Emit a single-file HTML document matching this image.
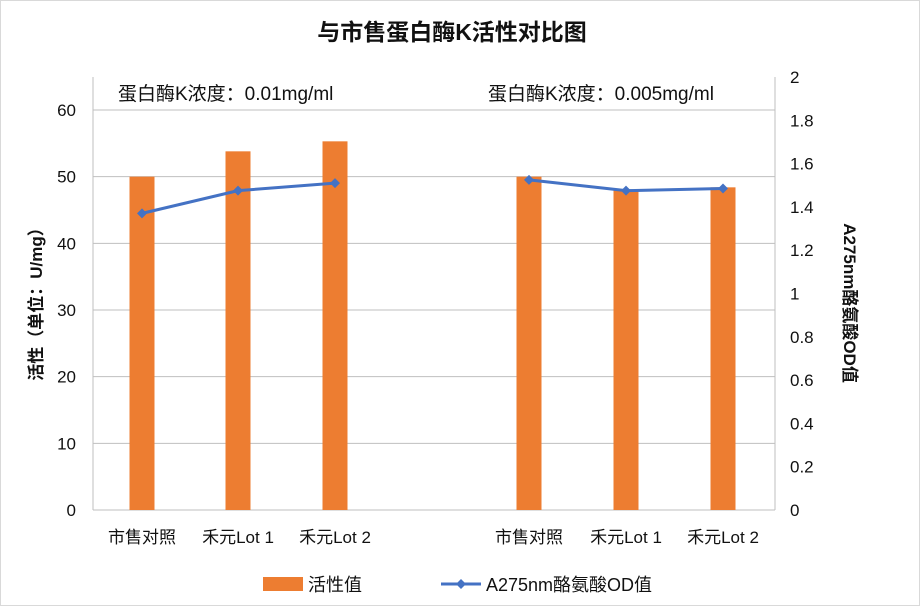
<!DOCTYPE html>
<html><head><meta charset="utf-8"><style>
body{margin:0;background:#fff;}
svg{display:block;font-family:"Liberation Sans","Noto Sans CJK SC",sans-serif;}
</style></head><body>
<svg id="chart" width="920" height="606" viewBox="0 0 920 606">
<rect x="0.5" y="0.5" width="919" height="605" fill="#fff" stroke="#d9d9d9"/>
<text x="452" y="40" text-anchor="middle" font-size="23" font-weight="bold" fill="#111">与市售蛋白酶K活性对比图</text>
<g id="grid"></g><g id="bars"></g><g id="line"></g><g id="axes"></g>
<text x="118" y="100" font-size="19" fill="#111">蛋白酶K浓度：0.01mg/ml</text>
<text x="488" y="100" font-size="19" fill="#111">蛋白酶K浓度：0.005mg/ml</text>
<text transform="translate(42,300) rotate(-90)" text-anchor="middle" font-size="17" font-weight="bold" fill="#111">活性（单位：U/mg）</text>
<text transform="translate(844,303) rotate(90)" text-anchor="middle" font-size="17" font-weight="bold" fill="#111">A275nm酪氨酸OD值</text>
<g>
<rect x="263" y="577" width="40" height="14" fill="#ed7d31"/>
<text x="308" y="591" font-size="18" fill="#111">活性值</text>
<line x1="441" y1="584" x2="481" y2="584" stroke="#4472c4" stroke-width="3"/>
<path d="M461 579 L466 584 L461 589 L456 584 Z" fill="#4472c4"/>
<text x="486" y="591" font-size="18" fill="#111">A275nm酪氨酸OD值</text>
</g>
</svg>
<script>
const categories=["市售对照","禾元Lot 1","禾元Lot 2","市售对照","禾元Lot 1","禾元Lot 2"];
const activity=[50,53.8,55.3,50,48,48.4];
const odValues=[1.37,1.475,1.51,1.525,1.475,1.485];
const groups=[[0,1,2],[3,4,5]];
const leftTicks=[0,10,20,30,40,50,60];
const rightTicks=["0","0.2","0.4","0.6","0.8","1","1.2","1.4","1.6","1.8","2"];
const NS="http://www.w3.org/2000/svg";
const L=93,R=775,Y0=510,TOP=77;
const yL=v=>Y0-v*(Y0-110)/60;
const yR=v=>Y0-v*(Y0-TOP)/2;
const xC=i=>[142,238,335,529,626,723][i];
function mk(tag,attrs,parent){const e=document.createElementNS(NS,tag);for(const k in attrs)e.setAttribute(k,attrs[k]);document.getElementById(parent).appendChild(e);return e;}
leftTicks.forEach(t=>{
  const g=mk('line',{x1:L,x2:R,y1:yL(t),y2:yL(t),stroke:'#bfbfbf','stroke-width':1},'grid');
  
  
  const tx=mk('text',{x:L-17,y:yL(t)+6,'text-anchor':'end','font-size':17,fill:'#111'},'axes');
  tx.textContent=t;
  
  
});
rightTicks.forEach(t=>{
  const tx=mk('text',{x:R+15,y:yR(parseFloat(t))+6,'font-size':17,fill:'#111'},'axes');
  tx.textContent=t;
  
  
});
const la=mk('line',{x1:L,x2:L,y1:TOP,y2:Y0,stroke:'#bfbfbf'},'axes');


const ra=mk('line',{x1:R,x2:R,y1:TOP,y2:Y0,stroke:'#bfbfbf'},'axes');


categories.forEach((c,i)=>{
  const b=mk('rect',{x:xC(i)-12.5,y:yL(activity[i]),width:25,height:Y0-yL(activity[i]),fill:'#ed7d31'},'bars');
  
  
  const tx=mk('text',{x:xC(i),y:543,'text-anchor':'middle','font-size':17,fill:'#111'},'axes');
  tx.textContent=c;
  
  
});
groups.forEach(g=>{
  const pts=g.map(i=>xC(i)+','+yR(odValues[i])).join(' ');
  const pl=mk('polyline',{points:pts,fill:'none',stroke:'#4472c4','stroke-width':3},'line');
  
  
});
odValues.forEach((v,i)=>{
  const x=xC(i),y=yR(v);
  const m=mk('path',{d:`M${x} ${y-5} L${x+5} ${y} L${x} ${y+5} L${x-5} ${y} Z`,fill:'#4472c4'},'line');
  
  
});
</script>
</body></html>
